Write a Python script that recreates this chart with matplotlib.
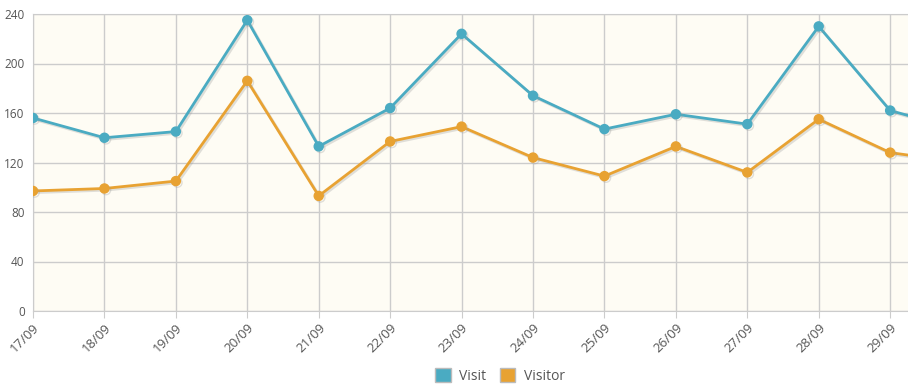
import matplotlib
matplotlib.use("Agg")
import matplotlib.pyplot as plt
import matplotlib.patheffects as pe
from matplotlib.patches import Patch

# data (30/09 is cut off by the right edge)
dates = ["17/09", "18/09", "19/09", "20/09", "21/09", "22/09", "23/09",
         "24/09", "25/09", "26/09", "27/09", "28/09", "29/09", "30/09"]
visit = [156, 140, 145, 235, 133, 164, 224, 174, 147, 159, 151, 230, 162, 146]
visitor = [97, 99, 105, 186, 93, 137, 149, 124, 109, 133, 112, 155, 128, 120]

VISIT_C = "#4aabc2"
VISITOR_C = "#e8a232"
GRID_C = "#cccccc"
TEXT_C = "#555555"

plt.rcParams["font.family"] = ["Open Sans", "DejaVu Sans"]

fig = plt.figure(figsize=(9.08, 3.84), dpi=100)
ax = fig.add_axes([33 / 908, 1 - 311 / 384, 1 - 33 / 908, 297 / 384])
ax.set_facecolor("#fefcf4")

x = list(range(len(dates)))
shadow = [pe.SimpleLineShadow(offset=(1.2, -1.2), shadow_color="#999999", alpha=0.3), pe.Normal()]
for vals, col, name in [(visit, VISIT_C, "Visit"), (visitor, VISITOR_C, "Visitor")]:
    ax.plot(x, vals, color=col, lw=2.0, marker="o", ms=6.5, mec=col,
            path_effects=shadow, label=name, zorder=3, clip_on=True)

ax.set_xlim(0, 12.25)
ax.set_ylim(0, 240)
ax.set_yticks(range(0, 241, 40))
ax.set_xticks(x[:13])
ax.set_xticklabels(dates[:13], rotation=45, ha="right", rotation_mode="anchor")
ax.grid(True, color=GRID_C, lw=1)
ax.set_axisbelow(True)
ax.tick_params(axis="x", colors=GRID_C, length=5, labelcolor=TEXT_C, labelsize=9.5, pad=2)
ax.tick_params(axis="y", length=0, labelcolor=TEXT_C, labelsize=8.5, pad=6)
ax.spines["right"].set_visible(False)
for side in ["left", "bottom", "top"]:
    ax.spines[side].set_color(GRID_C)

handles = [Patch(facecolor=VISIT_C, edgecolor="#bbbbbb", label="Visit"),
           Patch(facecolor=VISITOR_C, edgecolor="#bbbbbb", label="Visitor")]
fig.legend(handles=handles, loc="center", bbox_to_anchor=(500 / 908, 1 - 376 / 384),
           ncol=2, frameon=False, fontsize=10, handlelength=1.1, handleheight=1.1,
           handletextpad=0.6, columnspacing=1.0, labelcolor=TEXT_C)

fig.savefig("out.png", dpi=100, facecolor="white")
